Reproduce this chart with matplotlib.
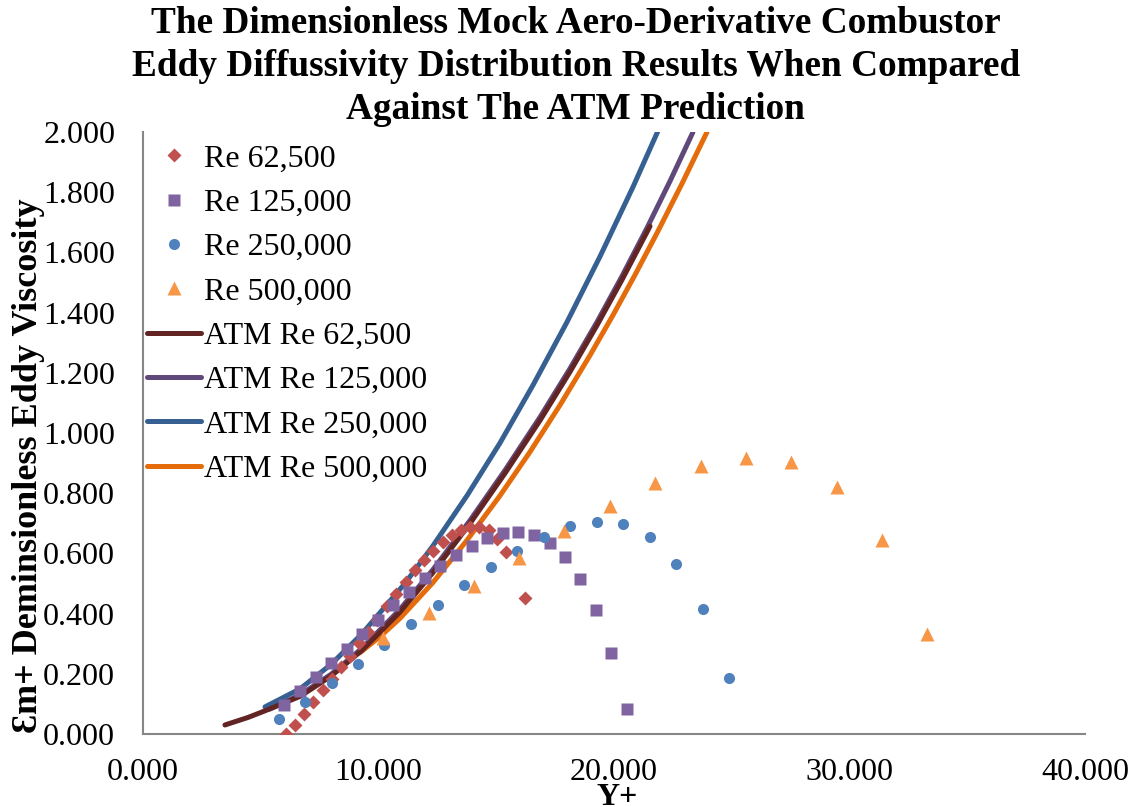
#!/usr/bin/env python3

import matplotlib.pyplot as plt

plt.rcParams['font.family'] = ['Liberation Serif', 'DejaVu Serif']

# measured points (Y+, eddy viscosity)
re62_x = [6.07, 6.45, 6.84, 7.22, 7.64, 8.03, 8.41, 8.79, 9.17, 9.55, 9.94, 10.36, 10.74,
          11.17, 11.55, 11.93, 12.31, 12.74, 13.12, 13.50, 13.89, 14.27, 14.69, 15.03, 15.41, 16.22]
re62_y = [0.000, 0.030, 0.067, 0.107, 0.146, 0.183, 0.223, 0.260, 0.303, 0.339, 0.379, 0.426, 0.466,
          0.506, 0.546, 0.579, 0.609, 0.639, 0.662, 0.679, 0.689, 0.689, 0.679, 0.649, 0.606, 0.453]

re125_x = [5.99, 6.67, 7.35, 7.98, 8.66, 9.30, 9.98, 10.62, 11.29, 11.97, 12.61, 13.29,
           13.97, 14.61, 15.29, 15.92, 16.60, 17.28, 17.92, 18.56, 19.24, 19.87, 20.55]
re125_y = [0.097, 0.143, 0.190, 0.236, 0.283, 0.333, 0.379, 0.429, 0.473, 0.519, 0.559, 0.596,
           0.626, 0.652, 0.669, 0.672, 0.662, 0.636, 0.589, 0.516, 0.413, 0.270, 0.083]

re250_x = [5.77, 6.88, 8.03, 9.13, 10.23, 11.38, 12.53, 13.63, 14.78, 15.88, 17.03, 18.13,
           19.28, 20.38, 21.53, 22.63, 23.78, 24.88]
re250_y = [0.050, 0.106, 0.170, 0.233, 0.296, 0.366, 0.429, 0.496, 0.556, 0.609, 0.656, 0.692,
           0.705, 0.699, 0.656, 0.566, 0.416, 0.186]

re500_x = [10.19, 12.14, 14.06, 15.97, 17.88, 19.83, 21.74, 23.69, 25.61, 27.52, 29.47, 31.38, 33.29]
re500_y = [0.319, 0.403, 0.493, 0.586, 0.676, 0.759, 0.835, 0.889, 0.918, 0.902, 0.822, 0.646, 0.333]

# ATM prediction curves
atm62_x = [3.48, 4.46, 5.18, 6.67, 7.98, 9.30, 10.91, 12.31, 13.89, 15.37, 16.86, 18.13,
           19.28, 20.34, 21.53]
atm62_y = [0.030, 0.055, 0.077, 0.125, 0.192, 0.278, 0.405, 0.536, 0.700, 0.866, 1.042, 1.203,
           1.358, 1.509, 1.687]

atm125_x = [5.39, 6.67, 7.98, 9.30, 10.91, 12.31, 13.89, 15.37, 16.86, 18.13, 19.28, 20.34,
            21.40, 22.38, 23.35]
atm125_y = [0.083, 0.130, 0.198, 0.285, 0.414, 0.546, 0.710, 0.876, 1.053, 1.214, 1.369, 1.521,
            1.681, 1.837, 1.999]

atm250_x = [5.18, 6.67, 7.98, 9.30, 11.13, 12.31, 13.76, 15.16, 16.56, 18.00, 19.41, 20.81, 21.87]
atm250_y = [0.090, 0.150, 0.231, 0.333, 0.501, 0.625, 0.792, 0.967, 1.159, 1.368, 1.587, 1.818, 2.004]

atm500_x = [9.21, 10.06, 10.91, 12.31, 13.76, 15.16, 16.43, 17.71, 18.98, 19.96, 20.89,
            21.83, 22.89, 23.95]
atm500_y = [0.270, 0.323, 0.384, 0.503, 0.644, 0.792, 0.937, 1.093, 1.258, 1.392, 1.525,
            1.665, 1.829, 2.000]

fig = plt.figure(figsize=(11.47, 8.07), dpi=100)
ax = fig.add_axes([143 / 1147, 1 - 734 / 807, (1085 - 143) / 1147, (734 - 132) / 807])

ax.plot(re62_x, re62_y, 'D', color='#C0504D', ms=7, mec='none', label='Re 62,500', zorder=5)
ax.plot(re125_x, re125_y, 's', color='#8064A2', ms=8, mec='none', label='Re 125,000', zorder=6)
ax.plot(re250_x, re250_y, 'o', color='#4F81BD', ms=8, mec='none', label='Re 250,000', zorder=7)
ax.plot(re500_x, re500_y, '^', color='#F79646', ms=9.5, mec='none', label='Re 500,000', zorder=8)

line_kw = dict(lw=3.6, solid_capstyle='round', solid_joinstyle='round')
ax.plot(atm62_x, atm62_y, color='#632523', label='ATM Re 62,500', zorder=3, **line_kw)
ax.plot(atm125_x, atm125_y, color='#5F497A', label='ATM Re 125,000', zorder=2, **line_kw)
ax.plot(atm250_x, atm250_y, color='#366092', label='ATM Re 250,000', zorder=2, **line_kw)
ax.plot(atm500_x, atm500_y, color='#E46C0A', label='ATM Re 500,000', zorder=2, **line_kw)

ax.set_xlim(0, 40)
ax.set_ylim(0, 2.0)
ax.set_xticks([0, 10, 20, 30, 40])
ax.set_yticks([i * 0.2 for i in range(11)])
ax.xaxis.set_major_formatter(plt.FormatStrFormatter('%.3f'))
ax.yaxis.set_major_formatter(plt.FormatStrFormatter('%.3f'))
ax.tick_params(axis='both', length=0, labelsize=23)
ax.tick_params(axis='x', pad=17)
ax.tick_params(axis='y', pad=20)

for s in ['top', 'right']:
    ax.spines[s].set_visible(False)
for s in ['left', 'bottom']:
    ax.spines[s].set_color('#868686')
    ax.spines[s].set_linewidth(1.5)

ax.legend(loc='upper left', frameon=False, fontsize=23, handlelength=1.7, handletextpad=0.1,
          labelspacing=0.47, borderaxespad=0.0, borderpad=0.0, bbox_to_anchor=(0.004, 0.98))

fig.text(0.502, 0.992, 'The Dimensionless Mock Aero-Derivative Combustor\n'
         'Eddy Diffussivity Distribution Results When Compared\n'
         'Against The ATM Prediction',
         ha='center', va='top', fontsize=26.8, fontweight='bold', linespacing=1.28)

fig.text(29 / 1147, 1 - 466 / 807, 'Ɛm+ Deminsionless Eddy Viscosity', rotation=90,
         ha='center', va='center', fontsize=26, fontweight='bold')
fig.text(617 / 1147, 1 - 783 / 807, 'Y+', ha='center', va='top', fontsize=23, fontweight='bold')

fig.savefig('out.png', dpi=100)
plt.close(fig)
